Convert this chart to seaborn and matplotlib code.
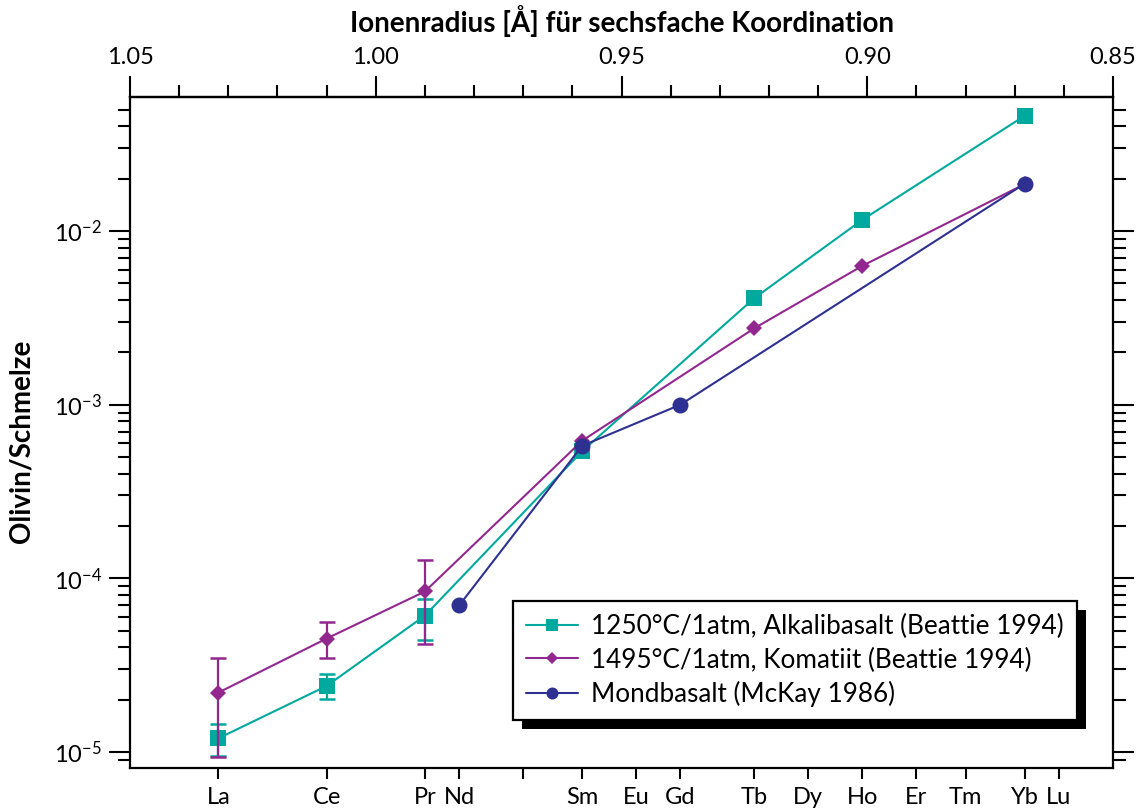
import numpy as np
import pandas as pd
import matplotlib
matplotlib.use("Agg")
import matplotlib.pyplot as plt
import seaborn as sns
from matplotlib.ticker import (FixedLocator, NullLocator, NullFormatter,
                               LogLocator, FuncFormatter, MultipleLocator)
from matplotlib.patches import Rectangle

# ---------------- data ----------------
elements = ['La', 'Ce', 'Pr', 'Nd', 'Pm', 'Sm', 'Eu', 'Gd', 'Tb', 'Dy', 'Ho', 'Er', 'Tm', 'Yb', 'Lu']
element_labels = ['La', 'Ce', 'Pr', 'Nd', '', 'Sm', 'Eu', 'Gd', 'Tb', 'Dy', 'Ho', 'Er', 'Tm', 'Yb', 'Lu']
radii = [1.032, 1.010, 0.990, 0.983, 0.970, 0.958, 0.947, 0.938, 0.923, 0.912, 0.901, 0.890, 0.880, 0.868, 0.861]

alk_elements = ['La', 'Ce', 'Pr', 'Sm', 'Tb', 'Ho', 'Yb']
alk_values = [1.2e-5, 2.4e-5, 6.1e-5, 5.4e-4, 4.1e-3, 1.16e-2, 4.6e-2]
alk_err_elements = ['La', 'Ce', 'Pr']
alk_err_low = [9.5e-6, 2.02e-5, 4.4e-5]
alk_err_high = [1.45e-5, 2.8e-5, 7.6e-5]

kom_elements = ['La', 'Ce', 'Pr', 'Sm', 'Tb', 'Ho', 'Yb']
kom_values = [2.2e-5, 4.5e-5, 8.4e-5, 6.2e-4, 2.75e-3, 6.3e-3, 1.86e-2]
kom_err_elements = ['La', 'Ce', 'Pr']
kom_err_low = [9.4e-6, 3.5e-5, 4.2e-5]
kom_err_high = [3.5e-5, 5.6e-5, 1.27e-4]

mond_elements = ['Nd', 'Sm', 'Gd', 'Yb']
mond_values = [7.0e-5, 5.8e-4, 1.0e-3, 1.87e-2]

top_ticks = [1.05, 1.00, 0.95, 0.90, 0.85]

series_labels = ['1250°C/1atm, Alkalibasalt (Beattie 1994)',
                 '1495°C/1atm, Komatiit (Beattie 1994)',
                 'Mondbasalt (McKay 1986)']
colors = ['#00A99D', '#92278F', '#2E3192']

# ---------------- style ----------------
sns.set_theme(style="ticks")
plt.rcParams['font.family'] = ['Lato', 'DejaVu Sans']
plt.rcParams['mathtext.fontset'] = 'custom'
plt.rcParams['mathtext.rm'] = 'Lato'
plt.rcParams['mathtext.it'] = 'Lato:italic'
plt.rcParams['mathtext.bf'] = 'Lato:bold'
for k in ['text.color', 'axes.labelcolor', 'xtick.color', 'ytick.color', 'axes.edgecolor']:
    plt.rcParams[k] = 'black'

rad = dict(zip(elements, radii))

def frame(els, vals, name):
    return pd.DataFrame({'radius': [rad[e] for e in els], 'value': vals, 'series': name})

df_alk = frame(alk_elements, alk_values, series_labels[0])
df_kom = frame(kom_elements, kom_values, series_labels[1])
df_mond = frame(mond_elements, mond_values, series_labels[2])

fig = plt.figure(figsize=(11.47, 8.11), dpi=100)
W, H = 1147, 811
ax = fig.add_axes([130 / W, 1 - 768 / H, (1113 - 130) / W, (768 - 97) / H])

lw = 1.5
sns.lineplot(data=df_alk, x='radius', y='value', ax=ax, color=colors[0], marker='s',
             markersize=12, markeredgewidth=0, linewidth=lw, estimator=None, sort=False,
             label=series_labels[0], zorder=3)
sns.lineplot(data=df_kom, x='radius', y='value', ax=ax, color=colors[1], marker='D',
             markersize=8.3, markeredgewidth=0, linewidth=lw, estimator=None, sort=False,
             label=series_labels[1], zorder=4)
sns.lineplot(data=df_mond, x='radius', y='value', ax=ax, color=colors[2], marker='o',
             markersize=11.5, markeredgewidth=0, linewidth=lw, estimator=None, sort=False,
             label=series_labels[2], zorder=5)

# error bars
def errbars(els, vals_all, els_all, lo, hi, color, z):
    x = [rad[e] for e in els]
    v = [vals_all[els_all.index(e)] for e in els]
    yerr = [np.array(v) - np.array(lo), np.array(hi) - np.array(v)]
    ax.errorbar(x, v, yerr=yerr, fmt='none', ecolor=color, elinewidth=1.6,
                capsize=5.8, capthick=1.8, zorder=z)

errbars(alk_err_elements, alk_values, alk_elements, alk_err_low, alk_err_high, colors[0], 3.5)
errbars(kom_err_elements, kom_values, kom_elements, kom_err_low, kom_err_high, colors[1], 4.5)

# ---------------- axes ----------------
ax.set_yscale('log')
ax.set_xlim(1.05, 0.85)
ax.set_ylim(10 ** -5.092, 10 ** -1.2286)

ax.set_xticks(radii)
ax.set_xticklabels(element_labels)
ax.xaxis.set_minor_locator(NullLocator())
ax.set_xlabel('')

ax.yaxis.set_major_locator(LogLocator(base=10, numticks=10))
ax.yaxis.set_minor_locator(LogLocator(base=10, subs=np.arange(2, 10), numticks=40))
ax.yaxis.set_minor_formatter(NullFormatter())
ax.yaxis.set_major_formatter(FuncFormatter(lambda v, p: r'$\mathregular{10^{%d}}$' % int(round(np.log10(v)))))
ax.set_ylabel('Olivin/Schmelze', fontsize=20, fontweight='bold')
ax.yaxis.set_label_coords(-0.097, 0.487)

for s in ax.spines.values():
    s.set_visible(True)
    s.set_linewidth(1.6)
    s.set_color('black')

ax.tick_params(axis='x', which='major', direction='out', length=8, width=1.5,
               labelsize=17, pad=6, colors='black', top=False, bottom=True)
ax.tick_params(axis='y', which='major', direction='out', length=15, width=1.5,
               labelsize=17, pad=5, colors='black', left=True, right=True, labelright=False)
ax.tick_params(axis='y', which='minor', direction='out', length=9, width=1.5,
               left=True, right=True, colors='black')

sec = ax.secondary_xaxis('top', functions=(lambda x: x, lambda x: x))
sec.xaxis.set_major_locator(FixedLocator(top_ticks))
sec.xaxis.set_minor_locator(MultipleLocator(0.01))
sec.xaxis.set_major_formatter(FuncFormatter(lambda v, p: '%.2f' % v))
sec.xaxis.set_minor_formatter(NullFormatter())
sec.tick_params(axis='x', which='major', direction='out', length=15, width=1.5,
                labelsize=17, pad=6, colors='black')
sec.tick_params(axis='x', which='minor', direction='out', length=9, width=1.5, colors='black')
sec.spines['top'].set_linewidth(1.6)
sec.set_xlabel('Ionenradius [Å] für sechsfache Koordination', fontsize=20,
               fontweight='bold', labelpad=11, color='black')

ax.grid(False)

# ---------------- legend ----------------
leg = ax.legend(loc='upper left', bbox_to_anchor=(513 / W, 1 - 601 / H),
                bbox_transform=fig.transFigure, borderaxespad=0, fontsize=18.8,
                frameon=True, fancybox=False, framealpha=1, edgecolor='black',
                handlelength=2.0, handletextpad=0.5, labelspacing=0.32,
                borderpad=0.5, markerscale=0.75)
leg.get_frame().set_linewidth(1.6)
for t in leg.get_texts():
    t.set_color('black')
leg.set_zorder(10)

fig.canvas.draw()
bb = leg.get_window_extent()
ax.add_artist(Rectangle((bb.x0 + 9, bb.y0 - 9), bb.width, bb.height, transform=None,
                        facecolor='black', edgecolor='none', zorder=9, clip_on=False))

fig.savefig('out.png', dpi=100, facecolor='white')
